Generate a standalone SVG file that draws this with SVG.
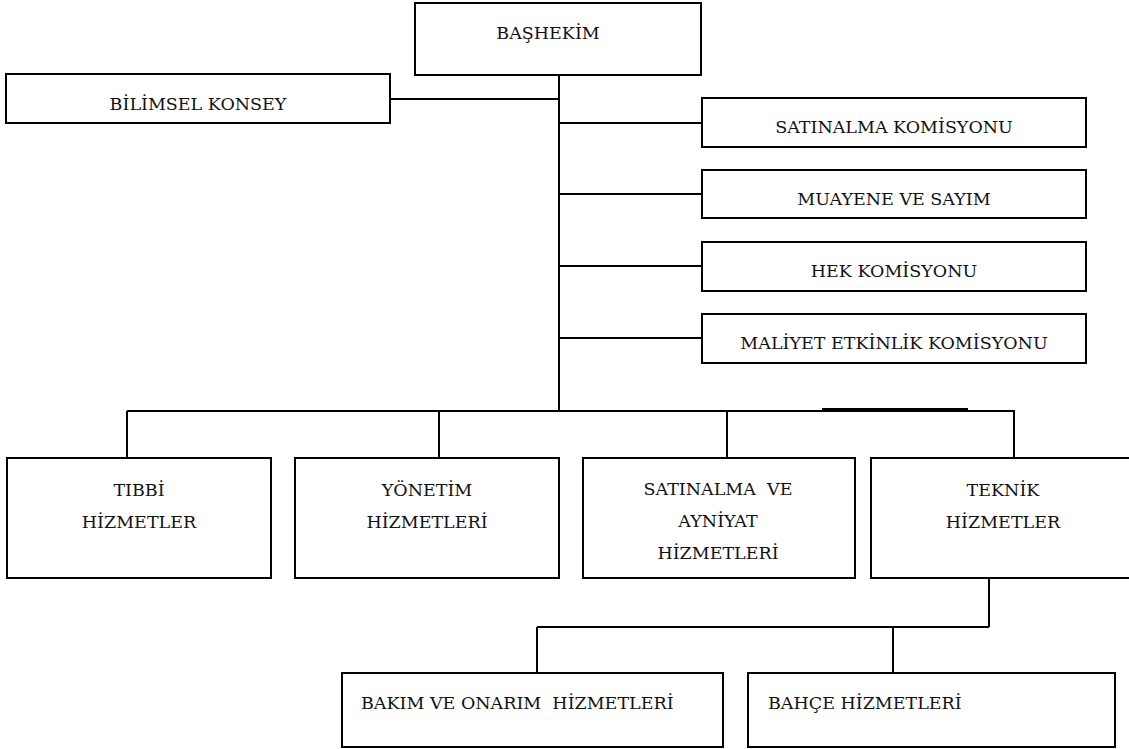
<svg xmlns="http://www.w3.org/2000/svg" width="1129" height="749" viewBox="0 0 1129 749">
  <style>
    .box { fill: #ffffff; stroke: #000000; stroke-width: 2; }
    .wire { fill: none; stroke: #000000; stroke-width: 2; }
    .c { text-anchor: middle; }
  </style>
  <rect width="1129" height="749" fill="#ffffff"/>

  <!-- connectors -->
  <g id="connectors">
    <!-- main trunk from the chief physician -->
    <line class="wire" x1="559" y1="75" x2="559" y2="411"/>
    <line class="wire" x1="390" y1="99" x2="559" y2="99"/>
    <line class="wire" x1="559" y1="123" x2="702" y2="123"/>
    <line class="wire" x1="559" y1="194" x2="702" y2="194"/>
    <line class="wire" x1="559" y1="266" x2="702" y2="266"/>
    <line class="wire" x1="559" y1="338" x2="702" y2="338"/>
    <!-- service bus -->
    <line class="wire" x1="127" y1="411" x2="1015" y2="411"/>
    <line class="wire" x1="822" y1="409" x2="968" y2="409"/>
    <line class="wire" x1="127" y1="411" x2="127" y2="458"/>
    <line class="wire" x1="439" y1="411" x2="439" y2="458"/>
    <line class="wire" x1="727" y1="411" x2="727" y2="458"/>
    <line class="wire" x1="1014" y1="411" x2="1014" y2="458"/>
    <!-- technical services branch -->
    <line class="wire" x1="989" y1="578" x2="989" y2="627"/>
    <line class="wire" x1="537" y1="627" x2="989" y2="627"/>
    <line class="wire" x1="537" y1="627" x2="537" y2="673"/>
    <line class="wire" x1="893" y1="627" x2="893" y2="673"/>
  </g>

  <g font-family="DejaVu Serif, serif" font-size="17.5" fill="#111111">
    <g id="bashekim">
      <rect class="box" x="415" y="3" width="286" height="72"/>
      <text class="c" x="548" y="39">BAŞHEKİM</text>
    </g>

    <g id="bilimsel-konsey">
      <rect class="box" x="6" y="74" width="384" height="49"/>
      <text class="c" x="198" y="110">BİLİMSEL KONSEY</text>
    </g>

    <g id="satinalma-komisyonu">
      <rect class="box" x="702" y="98" width="384" height="49"/>
      <text class="c" x="894" y="133">SATINALMA KOMİSYONU</text>
    </g>

    <g id="muayene-sayim">
      <rect class="box" x="702" y="170" width="384" height="48"/>
      <text class="c" x="894" y="205">MUAYENE VE SAYIM</text>
    </g>

    <g id="hek-komisyonu">
      <rect class="box" x="702" y="242" width="384" height="49"/>
      <text class="c" x="894" y="277">HEK KOMİSYONU</text>
    </g>

    <g id="maliyet-etkinlik">
      <rect class="box" x="702" y="314" width="384" height="49"/>
      <text class="c" x="894" y="349">MALİYET ETKİNLİK KOMİSYONU</text>
    </g>

    <g id="tibbi-hizmetler">
      <rect class="box" x="7" y="458" width="264" height="120"/>
      <text class="c" x="139" y="496">TIBBİ</text>
      <text class="c" x="139" y="528">HİZMETLER</text>
    </g>

    <g id="yonetim-hizmetleri">
      <rect class="box" x="295" y="458" width="264" height="120"/>
      <text class="c" x="427" y="496">YÖNETİM</text>
      <text class="c" x="427" y="528">HİZMETLERİ</text>
    </g>

    <g id="satinalma-ayniyat">
      <rect class="box" x="583" y="458" width="272" height="120"/>
      <text class="c" x="718" y="495" xml:space="preserve">SATINALMA  VE</text>
      <text class="c" x="718" y="527">AYNİYAT</text>
      <text class="c" x="718" y="559">HİZMETLERİ</text>
    </g>

    <g id="teknik-hizmetler">
      <rect class="box" x="871" y="458" width="262" height="120"/>
      <text class="c" x="1003" y="496">TEKNİK</text>
      <text class="c" x="1003" y="528">HİZMETLER</text>
    </g>

    <g id="bakim-onarim">
      <rect class="box" x="342" y="673" width="381" height="74"/>
      <text x="361" y="709" xml:space="preserve">BAKIM VE ONARIM  HİZMETLERİ</text>
    </g>

    <g id="bahce-hizmetleri">
      <rect class="box" x="748" y="673" width="367" height="74"/>
      <text x="768" y="709">BAHÇE HİZMETLERİ</text>
    </g>
  </g>
</svg>
